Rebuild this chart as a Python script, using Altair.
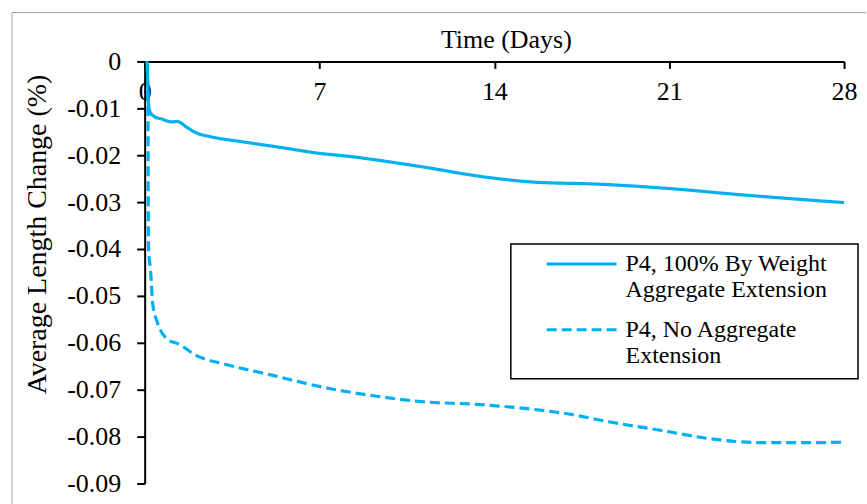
import altair as alt
import pandas as pd

# Series names (a newline splits the legend label onto two lines)
SERIES_AGG = "P4, 100% By Weight\nAggregate Extension"
SERIES_NOAGG = "P4, No Aggregate\nExtension"

# P4 with 100% aggregate extension
agg_days = [0.1, 0.17, 0.24, 0.37, 0.7, 1.1, 1.3, 1.7, 2.1, 2.6, 4.0, 5.4, 7.0,
            8.1, 10.9, 13.7, 15.5, 18.3, 21.0, 23.8, 28.0]
agg_change = [0.0, -0.0099, -0.0110, -0.0117, -0.0123, -0.0129, -0.0128, -0.0141,
              -0.0153, -0.0160, -0.0172, -0.0183, -0.0196, -0.0202, -0.0223,
              -0.0247, -0.0257, -0.0262, -0.0271, -0.0284, -0.0301]

# P4 without aggregate extension
noagg_days = [0.1, 0.13, 0.15, 0.24, 0.33, 0.5, 0.9, 1.37, 2.1, 3.17, 5.17, 7.16,
              9.16, 11.2, 13.2, 15.4, 16.75, 18.75, 20.7, 22.7, 24.7, 26.7, 28.0]
noagg_change = [0.0, -0.010, -0.039, -0.045, -0.052, -0.0555, -0.0592, -0.0603,
                -0.0628, -0.0645, -0.0670, -0.0695, -0.0713, -0.0726, -0.0731,
                -0.0741, -0.0750, -0.0770, -0.0787, -0.0805, -0.0813, -0.0813,
                -0.0812]

day_ticks = [0, 7, 14, 21, 28]
change_ticks = [0.0, -0.01, -0.02, -0.03, -0.04, -0.05, -0.06, -0.07, -0.08, -0.09]

rows = []
for name, days, vals in [(SERIES_AGG, agg_days, agg_change),
                         (SERIES_NOAGG, noagg_days, noagg_change)]:
    for i, (d, v) in enumerate(zip(days, vals)):
        rows.append({"day": d, "change": v, "series": name, "idx": i})
df = pd.DataFrame(rows)

W, H = 701, 423
FONT = "Liberation Serif"
BLUE = "#00B0F0"
series_domain = [SERIES_AGG, SERIES_NOAGG]

# A wide, flat line symbol: 7 units long, scaled by sqrt(size)/2 = 10 px per unit
legend = alt.Legend(
    orient="none", legendX=367, legendY=179, title=None, padding=12,
    symbolType="M-3.5,0L3.5,0", symbolSize=400, symbolStrokeWidth=3,
    symbolOffset=47, labelOffset=32, labelFont=FONT, labelFontSize=24,
    labelBaseline="middle", labelLimit=400, labelColor="black", rowPadding=16,
    labelExpr="split(datum.label, '\\n')",
)

lines = alt.Chart(df).mark_line(strokeWidth=3.2, interpolate="monotone").encode(
    x=alt.X("day:Q",
            scale=alt.Scale(domain=[0, 28], nice=False, zero=False),
            axis=alt.Axis(orient="bottom", offset=-H, values=day_ticks,
                          title="Time (Days)", titleX=362, titleY=-13.5,
                          titleAlign="center", titleBaseline="alphabetic",
                          titleFontSize=26, tickSize=7, labelPadding=10,
                          labelFontSize=26, labelFlush=False, grid=False)),
    y=alt.Y("change:Q",
            scale=alt.Scale(domain=[-0.09, 0], nice=False),
            axis=alt.Axis(values=change_ticks, title="Average Length Change (%)",
                          labelExpr="datum.value == 0 ? '0' : replace(format(datum.value, '.2f'), '\u2212', '-')",
                          titleX=-99, titleY=173, titleAlign="center",
                          titleBaseline="alphabetic", titleFontSize=28,
                          tickSize=8, labelPadding=16, labelFontSize=26,
                          labelFlush=False, grid=False)),
    color=alt.Color("series:N",
                    scale=alt.Scale(domain=series_domain, range=[BLUE, BLUE]),
                    legend=legend),
    strokeDash=alt.StrokeDash("series:N",
                              scale=alt.Scale(domain=series_domain,
                                              range=[[1, 0], [10, 5]]),
                              legend=legend),
    order="idx:Q",
)

one = alt.Data(values=[{}])

# Legend frame
legend_box = alt.Chart(one).mark_rect(
    fill="white", stroke="black", strokeWidth=1.5
).encode(x=alt.value(367), x2=alt.value(715), y=alt.value(183), y2=alt.value(318))

# Outer chart border (top and left edges)
border_top = alt.Chart(one).mark_rule(color="#a0a0a0", strokeWidth=1).encode(
    x=alt.value(-133), x2=alt.value(723), y=alt.value(-49))
border_left = alt.Chart(one).mark_rule(color="#a0a0a0", strokeWidth=1).encode(
    x=alt.value(-133), y=alt.value(-49), y2=alt.value(444))

chart = alt.layer(border_top, border_left, legend_box, lines).properties(
    width=W, height=H,
    padding={"left": 11, "top": 11, "right": 0, "bottom": 0},
    background="white",
).configure_view(stroke=None).configure_axis(
    labelFont=FONT, titleFont=FONT, labelColor="black", titleColor="black",
    domainColor="black", tickColor="black", domainWidth=2, tickWidth=2,
    titleFontWeight="normal",
)

chart.save("out.html", embed_options={"renderer": "svg", "actions": False})
